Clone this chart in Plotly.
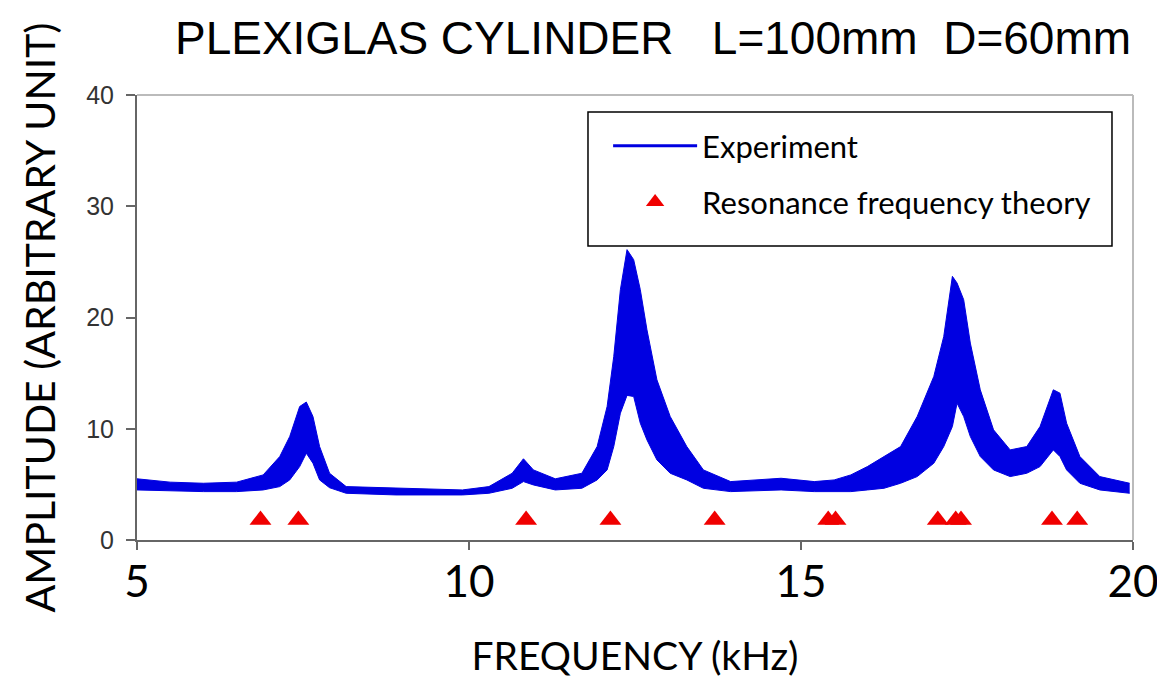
import plotly.graph_objects as go

# ---- data ----
freq_khz = [5.0, 5.5, 6.0, 6.5, 6.9, 7.15, 7.3, 7.45, 7.55, 7.65, 7.75, 7.9, 8.15, 8.9, 9.9,
            10.3, 10.65, 10.82, 10.97, 11.3, 11.7, 11.93, 12.08, 12.18, 12.28, 12.38, 12.48,
            12.58, 12.68, 12.83, 13.03, 13.28, 13.53, 13.94, 14.7, 15.2, 15.5, 15.75, 16.0,
            16.25, 16.5, 16.75, 17.0, 17.15, 17.28, 17.35, 17.45, 17.55, 17.7, 17.9, 18.15,
            18.4, 18.6, 18.8, 18.9, 19.0, 19.2, 19.5, 19.95]
upper_amp = [5.5, 5.2, 5.1, 5.2, 5.85, 7.5, 9.3, 12.0, 12.4, 11.1, 8.4, 6.0, 4.8, 4.7, 4.5,
             4.8, 6.0, 7.3, 6.3, 5.5, 6.0, 8.4, 12.0, 16.5, 22.5, 26.1, 25.2,
             22.5, 18.9, 14.4, 11.1, 8.4, 6.3, 5.25, 5.55, 5.25, 5.4, 5.85, 6.6,
             7.5, 8.4, 11.1, 14.7, 18.3, 23.7, 23.1, 21.6, 17.7, 13.5, 9.9, 8.1,
             8.4, 10.2, 13.5, 13.2, 10.5, 7.5, 5.7, 5.1]
lower_amp = [4.5, 4.4, 4.35, 4.35, 4.5, 4.8, 5.4, 6.6, 7.8, 6.9, 5.4, 4.7, 4.2, 4.05, 4.05,
             4.2, 4.65, 5.25, 4.95, 4.5, 4.65, 5.4, 6.3, 8.4, 11.4, 13.0, 12.9,
             10.5, 9.0, 7.2, 6.0, 5.4, 4.65, 4.35, 4.5, 4.35, 4.35, 4.35, 4.5,
             4.65, 5.1, 5.7, 6.9, 8.4, 10.2, 12.3, 11.1, 9.3, 7.5, 6.3, 5.7,
             6.0, 6.6, 8.1, 7.5, 6.3, 5.1, 4.5, 4.2]

theory_freq_khz = [6.86, 7.43, 10.86, 12.13, 13.70, 15.41, 15.52, 17.06, 17.33, 17.41, 18.78, 19.16]
theory_amp = [1.8] * len(theory_freq_khz)

x_ticks = [5, 10, 15, 20]
y_ticks = [0, 10, 20, 30, 40]

BLUE = "rgb(0,0,225)"
RED = "rgb(240,0,0)"
BODY = "Lato, 'Open Sans', sans-serif"

fig = go.Figure()

# experiment band (upper / lower envelope)
fig.add_trace(go.Scatter(x=freq_khz, y=upper_amp, mode="lines",
                         line=dict(color=BLUE, width=1), showlegend=False, hoverinfo="skip"))
fig.add_trace(go.Scatter(x=freq_khz, y=lower_amp, mode="lines", fill="tonexty",
                         fillcolor=BLUE, line=dict(color=BLUE, width=1),
                         showlegend=False, hoverinfo="skip"))
# legend entry for experiment
fig.add_trace(go.Scatter(x=[None], y=[None], mode="lines", name="Experiment",
                         line=dict(color=BLUE, width=3), legendgroup="a"))
# theory markers
fig.add_trace(go.Scatter(x=theory_freq_khz, y=theory_amp, mode="markers",
                         name="Resonance frequency theory", legendgroup="b",
                         marker=dict(symbol="triangle-up", size=19, color=RED)))

fig.update_layout(
    width=1157, height=671,
    margin=dict(l=129, r=32, t=87, b=139, autoexpand=False),
    paper_bgcolor="white", plot_bgcolor="white",
    title=dict(text="PLEXIGLAS CYLINDER &nbsp; L=100mm &nbsp;D=60mm",
               font=dict(family="'Liberation Sans', Arial", size=46, color="black"),
               x=0.5575, xanchor="center", y=0.955, yanchor="middle"),
    xaxis=dict(range=[5, 20], tickvals=x_ticks, showgrid=False, zeroline=False,
               automargin=False,
               showline=True, linecolor="#666", linewidth=2,
               ticks="outside", ticklen=8, tickwidth=2, tickcolor="#666",
               tickfont=dict(family=BODY, size=44, color="black"),
               ticklabelstandoff=-6,
               title=dict(text="FREQUENCY (kHz)", font=dict(family=BODY, size=39, color="black"),
                          standoff=38)),
    yaxis=dict(range=[0, 40], tickvals=y_ticks, showgrid=False, zeroline=False,
               automargin=False,
               showline=True, linecolor="#666", linewidth=2,
               ticks="outside", ticklen=9, tickwidth=2, tickcolor="#666",
               tickfont=dict(family="'Liberation Sans', Arial", size=25, color="#333"),
               ticklabelstandoff=7,
               title=dict(text="AMPLITUDE (ARBITRARY UNIT)", font=dict(family=BODY, size=41, color="black"),
                          standoff=18)),
    legend=dict(x=0.473, y=0.946, xanchor="left", yanchor="top",
                bgcolor="rgba(0,0,0,0)", borderwidth=0,
                font=dict(family=BODY, size=31, color="black"),
                itemwidth=84, tracegroupgap=13),
    shapes=[
        dict(type="line", xref="paper", yref="paper", x0=0, x1=1, y0=1, y1=1,
             line=dict(color="#bbb", width=2)),
        dict(type="line", xref="paper", yref="paper", x0=1, x1=1, y0=0, y1=1,
             line=dict(color="#bbb", width=2)),
        dict(type="rect", xref="paper", yref="paper", x0=0.4528, x1=0.9789, y0=0.6607, y1=0.9618,
             line=dict(color="black", width=1.5), fillcolor="white", layer="above"),
    ],
)

fig.write_html("out.html")
